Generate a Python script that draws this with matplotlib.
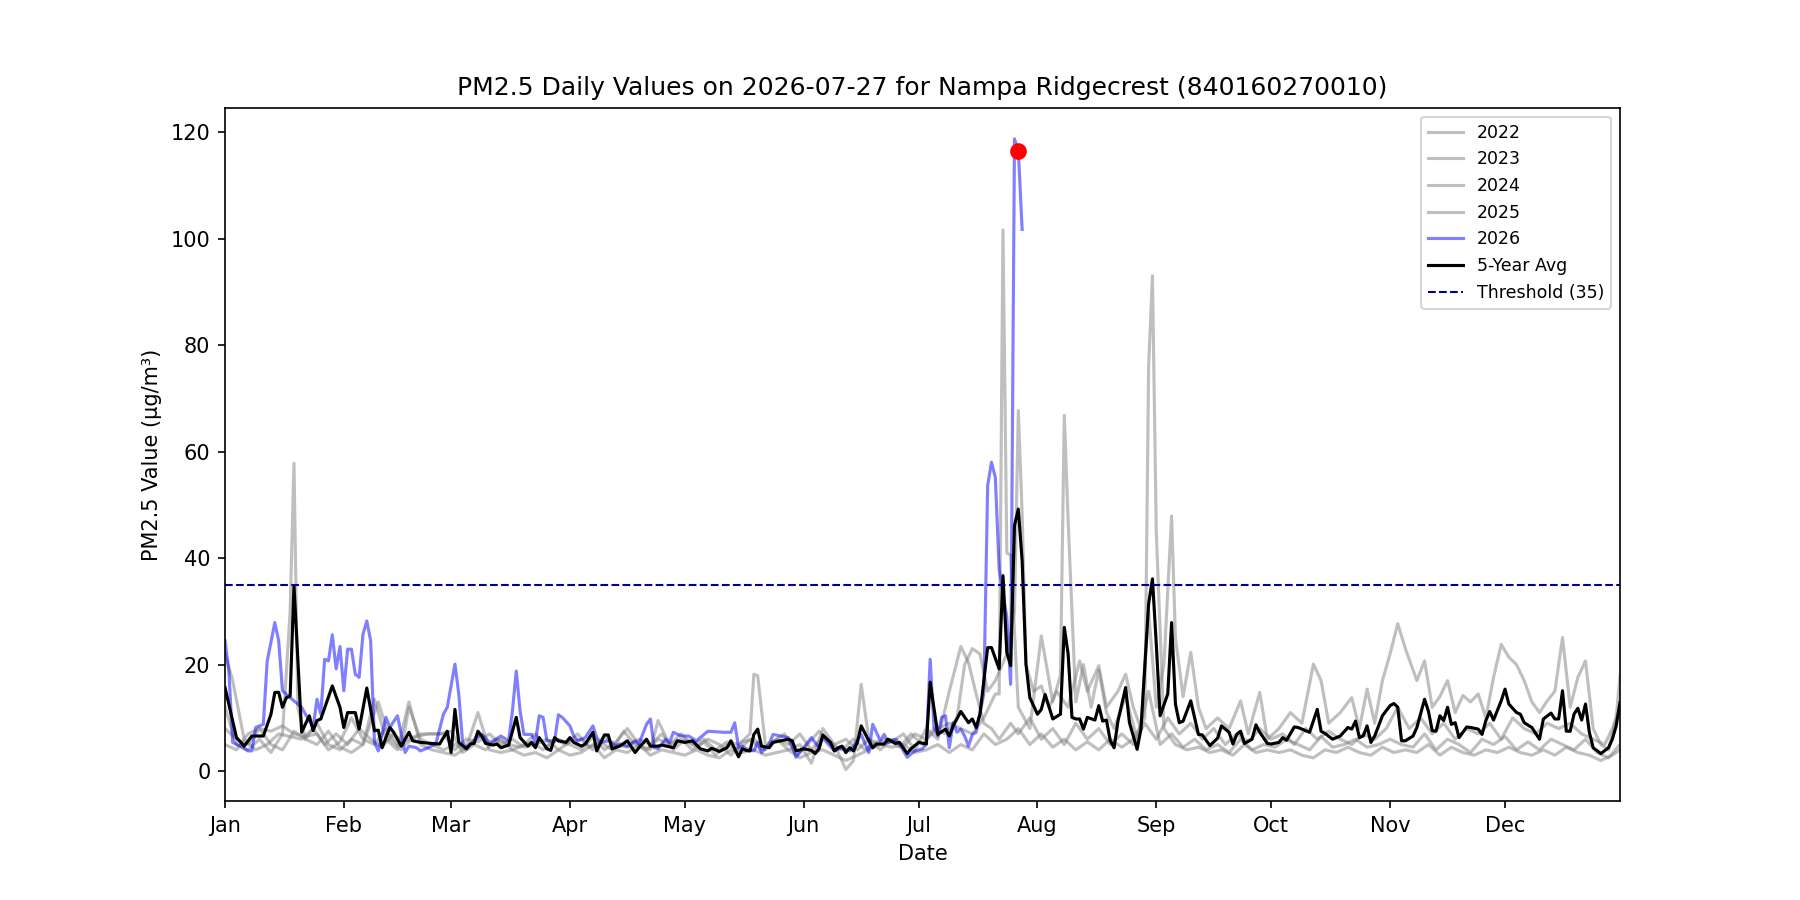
import numpy as np
import matplotlib
matplotlib.use("Agg")
import matplotlib.pyplot as plt
import matplotlib.dates as mdates

# day-of-year (0 = Jan 1) and PM2.5 values
d2022 = [0, 3, 6, 9, 12, 15, 17, 18, 19, 21, 24, 27, 30, 33, 36, 39, 42, 45, 48, 51, 54, 57, 60, 63, 66, 69, 72, 75, 78, 81,
         84, 87, 90, 93, 96, 99, 102, 105, 108, 111, 114, 117, 120, 123, 126, 129, 132, 135, 138, 141, 144, 147, 150, 153,
         156, 159, 162, 165, 168, 171, 174, 177, 180, 183, 186, 189, 192, 195, 198, 201, 204, 207, 210, 213, 216, 219, 222,
         225, 228, 231, 234, 237, 240, 241, 242, 243, 245, 248, 251, 254, 257, 260, 263, 266, 269, 272, 275, 278, 281, 284,
         287, 290, 293, 296, 299, 302, 305, 308, 311, 314, 317, 320, 323, 326, 329, 332, 335, 338, 341, 344, 347, 350, 353,
         356, 359, 362, 364]
v2022 = [12, 5, 4, 6, 3.5, 7, 30, 57.8, 12, 6, 5, 7.5, 4.5, 3.5, 5, 13.5, 6, 4, 13, 5, 4, 3.5, 3, 4.5, 11, 4, 3.5, 4, 3, 3.5,
         2.5, 4, 3, 3.5, 5, 2.5, 4, 3.5, 5, 3, 4, 3.5, 3, 4, 3, 2.5, 4, 3.5, 4, 3, 3.5, 4, 2.5, 3.5,
         4, 3, 2, 3, 4, 5, 4.5, 5, 3.5, 4, 5, 3.5, 5, 4, 7, 5, 6, 8, 5, 7, 4.5, 6, 4,
         5.5, 4, 6, 4.5, 6, 10, 76, 93, 45, 8, 5, 4, 4.5, 3.5, 4, 3, 5, 3.5, 4, 3.5, 4, 3, 2.5,
         4, 3.5, 4.5, 3.5, 3, 4.5, 3.5, 4, 3.5, 5, 3, 4.5, 3.5, 3, 4, 3.5, 4.5, 3.5, 3, 4, 3, 4.5, 3.5,
         3, 2, 3, 4]

d2023 = [0, 2, 5, 8, 11, 14, 17, 20, 23, 26, 29, 32, 35, 38, 41, 44, 47, 50, 53, 56, 59, 62, 65, 68, 71, 74, 77, 80, 83, 86,
         89, 92, 95, 98, 101, 104, 107, 110, 113, 116, 119, 122, 125, 128, 131, 134, 137, 138, 139, 141, 144, 147, 150, 153,
         156, 159, 162, 164, 166, 168, 171, 174, 177, 180, 183, 186, 189, 192, 195, 198, 201, 202, 203, 204, 205, 207, 210,
         213, 216, 218, 219, 220, 222, 224, 226, 228, 230, 232, 235, 238, 241, 244, 247, 250, 253, 256, 259, 262, 265, 268,
         271, 274, 277, 280, 283, 286, 289, 292, 295, 298, 301, 304, 307, 310, 313, 316, 319, 322, 325, 328, 331, 334, 337,
         340, 343, 346, 349, 352, 355, 358, 361, 364]
v2023 = [22, 17, 6, 4, 5, 7, 6.5, 6, 8, 5, 7, 5, 8, 6, 4.5, 7, 5, 6.5, 7, 7, 7.5, 3.5, 5, 4, 6, 5, 4.5, 5.5, 4, 6,
         5, 7, 4.5, 5.5, 4, 7.5, 5, 4, 6, 5, 7, 5, 6, 4, 5.5, 5, 7, 18.2, 17.9, 5, 6, 4, 5, 1.5,
         8, 5, 0.3, 2, 16.3, 6, 4, 6, 4.5, 7, 6, 8, 9, 8, 7, 10, 14.5, 14.5, 101.6, 41, 40.5, 12, 8,
         25.4, 13, 18, 66.8, 47, 13, 20, 12, 19, 11, 8, 14, 6, 15, 5, 7, 4.5, 6, 4, 5, 3.5, 6, 4,
         5, 4.5, 6, 5, 4, 6.5, 4.5, 5, 6, 4.5, 5, 6, 5, 4.5, 7, 4, 6, 5, 3.5, 6, 5, 6.5, 4,
         5.5, 4, 6, 5, 4, 6, 3.5, 2.5, 5]

d2024 = [0, 3, 6, 9, 12, 15, 18, 21, 24, 27, 30, 33, 36, 40, 43, 46, 48, 51, 54, 57, 60, 63, 66, 69, 72, 75, 78, 81, 84, 87,
         90, 93, 96, 99, 102, 105, 108, 111, 113, 116, 119, 122, 125, 128, 131, 134, 137, 140, 143, 146, 149, 152, 155, 158,
         161, 164, 167, 170, 173, 176, 179, 182, 185, 188, 191, 193, 195, 197, 199, 201, 204, 206, 207, 208, 209, 211, 213,
         215, 217, 220, 223, 225, 228, 230, 233, 235, 237, 239, 241, 243, 245, 247, 248, 250, 252, 254, 256, 259, 262, 265,
         267, 270, 272, 275, 278, 281, 284, 286, 288, 291, 294, 296, 298, 300, 302, 304, 306, 308, 311, 313, 315, 317, 319,
         321, 323, 325, 327, 329, 331, 333, 335, 337, 339, 341, 343, 345, 347, 349, 351, 353, 355, 357, 359, 361, 363, 364]
v2024 = [8, 6, 5, 8, 5, 4, 7.5, 6, 9, 5, 4, 6, 5, 13, 6, 4, 12, 6, 5, 4, 5, 4, 7, 5, 6, 4, 5, 7, 4.5, 6,
         5, 4, 6.5, 4, 5.5, 8, 5, 4, 9.5, 5, 6, 4, 5.5, 3, 5, 4, 6, 4, 5.5, 7, 3, 5, 7.5, 5,
         4, 6, 4, 5.5, 6, 4.5, 7, 5, 8, 7, 10, 20, 23, 22, 15, 17, 22, 30, 67.7, 48.3, 20, 15, 16,
         12, 15, 12, 20.7, 15, 19.8, 12, 15, 18.2, 12, 8, 30, 12, 20, 47.9, 25, 14, 22.3, 12, 8, 10, 8, 13.2,
         7, 14.8, 6, 8, 11, 9, 20.1, 17, 9, 11, 13.8, 8, 15.4, 9, 17, 22, 27.7, 23, 17, 20.7, 12, 14, 17,
         11, 14.2, 13, 14.5, 10, 17.6, 23.8, 21.4, 20, 17, 13, 11, 13.2, 15, 25.1, 12, 17.6, 20.7, 8, 5, 4, 10, 17.9]

d2025 = [0, 3, 6, 9, 12, 15, 18, 21, 24, 27, 30, 33, 36, 39, 42, 45, 48, 51, 54, 57, 60, 63, 66, 69, 72, 75, 78, 81, 84, 87,
         90, 93, 96, 99, 102, 105, 108, 111, 114, 117, 120, 123, 126, 129, 132, 135, 138, 141, 144, 147, 150, 153, 156, 159,
         162, 165, 168, 171, 174, 177, 180, 183, 186, 189, 192, 194, 196, 198, 200, 202, 205, 207, 210, 213, 216, 219, 222,
         225, 228, 231, 234, 237, 240, 243, 246, 249, 252, 255, 258, 261, 264, 267, 270, 273, 276, 279, 282, 285, 288, 291,
         294, 297, 300, 303, 306, 309, 312, 315, 318, 321, 324, 327, 330, 333, 336, 339, 342, 345, 348, 351, 354, 357, 360,
         362, 364]
v2025 = [5, 4, 7, 8, 7.5, 8.5, 7, 6.5, 7, 4, 5.5, 10, 6, 5, 8, 5, 6, 7, 7, 7, 4, 6, 5.5, 7, 5, 6, 4.5, 5, 6, 4,
         5.5, 6, 4, 6.5, 5, 4.5, 6, 5, 7, 4, 6, 4.5, 6, 5, 3, 5.5, 6, 4, 6, 5, 7, 4, 6.5, 5,
         6, 4, 6, 5, 5.5, 7, 4, 8, 6, 15, 23.4, 20.4, 14.5, 9, 8, 6, 9, 7, 10, 6, 8, 5, 9,
         6, 8, 5, 7, 5, 9, 6, 10, 7, 9, 6, 8, 5, 7, 5.5, 8, 6, 7, 5, 8, 6, 7.5, 6,
         5, 7, 6, 8, 12, 8, 10, 7, 9, 6, 8, 7, 9, 6, 10, 8, 7, 9, 8, 9, 7, 6, 5,
         8, 12]

d2026 = [0, 1, 2, 4, 6, 7, 8, 10, 11, 13, 14, 15, 17, 18, 19, 20, 21, 23, 24, 25, 26, 27, 28, 29, 30, 31, 32, 33, 34, 35,
         36, 37, 38, 39, 40, 42, 43, 45, 47, 48, 50, 51, 53, 55, 57, 58, 60, 61, 62, 63, 65, 67, 69, 70, 72, 74, 75, 76,
         77, 78, 80, 81, 82, 83, 84, 86, 87, 88, 90, 91, 92, 94, 96, 97, 98, 100, 102, 103, 105, 107, 108, 110, 111, 112,
         113, 115, 116, 117, 119, 121, 123, 126, 130, 132, 133, 134, 135, 136, 138, 139, 140, 142, 143, 145, 147, 148, 149,
         151, 153, 155, 156, 157, 159, 161, 163, 164, 166, 168, 169, 171, 172, 173, 175, 176, 178, 180, 182, 183, 184, 185,
         186, 187, 188, 189, 190, 191, 192, 193, 194, 195, 196, 198, 199, 200, 201, 202, 203, 204, 205, 206, 207, 208]
v2026 = [24.5, 18.9, 5.4, 4.7, 3.8, 3.8, 8.2, 8.8, 20.6, 27.9, 24.5, 15.1, 13.8, 13.2, 12.6, 12.0, 10.7, 8.2, 13.5, 10.7,
         21.0, 20.7, 25.6, 19.2, 23.4, 15.1, 22.9, 22.9, 18.2, 17.6, 25.7, 28.2, 24.5, 5.4, 3.8, 10.1, 8.2, 10.4, 3.5, 4.7,
         4.4, 3.8, 4.4, 5.1, 10.7, 12.0, 20.1, 14.5, 5.4, 4.4, 5.7, 6.9, 5.4, 5.7, 6.6, 5.7, 11.3, 18.8, 11.3, 6.9, 6.9, 5.4,
         10.4, 10.1, 5.7, 5.7, 10.6, 10.1, 8.5, 6.6, 5.7, 6.3, 8.5, 6.3, 5.4, 5.7, 4.7, 5.1, 4.7, 5.7, 5.1, 8.8, 9.8, 4.4,
         4.2, 6.0, 5.4, 7.3, 6.6, 6.6, 5.7, 7.5, 7.3, 7.3, 9.1, 4.4, 4.7, 4.2, 3.8, 5.4, 3.5, 5.1, 6.9, 6.6, 6.3, 4.7, 2.6,
         4.4, 6.3, 4.4, 6.3, 5.4, 3.8, 4.4, 3.8, 4.7, 6.9, 3.5, 8.8, 5.7, 6.9, 5.4, 6.0, 5.1, 2.6, 3.8, 4.2, 5.1, 21.0, 8.2,
         6.6, 10.1, 10.4, 4.4, 9.1, 7.3, 7.9, 6.6, 4.7, 6.9, 7.3, 14.5, 53.6, 58.0, 55.2, 38.0, 33.3, 28.9, 16.3, 118.7,
         116.5, 101.7]

avg_days = [0, 3, 5, 7, 10, 12, 13, 14, 15, 16, 17, 18, 20, 22, 23, 24, 25, 28, 30, 31, 32, 34, 35, 37, 39, 40, 41, 43,
            44, 46, 48, 49, 51, 54, 56, 58, 59, 60, 61, 63, 64, 65, 66, 67, 68, 70, 71, 72, 74, 76, 77, 79, 80, 81, 82, 84,
            85, 86, 87, 89, 90, 91, 93, 94, 96, 97, 99, 100, 101, 103, 105, 107, 108, 110, 111, 113, 114, 117, 118, 120,
            122, 124, 126, 127, 129, 131, 132, 134, 135, 136, 137, 138, 139, 140, 142, 143, 145, 147, 148, 149, 151, 153,
            154, 155, 156, 158, 159, 160, 161, 162, 163, 164, 165, 166, 168, 169, 170, 172, 173, 175, 176, 178, 179, 181,
            183, 184, 186, 188, 189, 190, 192, 194, 195, 196, 197, 198, 199, 200, 202, 203, 204, 205, 206, 207, 208, 209,
            210, 212, 213, 214, 216, 218, 219, 220, 221, 222, 223, 224, 225, 227, 228, 229, 230, 231, 232, 233, 235, 236,
            238, 239, 241, 242, 243, 244, 246, 247, 248, 249, 250, 252, 254, 255, 257, 259, 260, 262, 263, 264, 265, 266,
            268, 269, 270, 272, 273, 275, 276, 277, 279, 280, 281, 283, 285, 286, 287, 289, 291, 293, 294, 295, 296, 297,
            298, 299, 300, 302, 304, 305, 306, 307, 308, 310, 311, 313, 314, 315, 316, 317, 318, 319, 320, 321, 322, 324,
            325, 327, 328, 329, 330, 331, 333, 334, 335, 337, 338, 339, 341, 343, 344, 346, 347, 348, 349, 350, 351, 352,
            353, 354, 355, 356, 357, 359, 361, 362, 363, 364]
avg_vals = [15.7, 6.3, 4.7, 6.6, 6.6, 10.7, 14.8, 14.8, 12.0, 13.8, 14.1, 34.8, 7.3, 10.4, 7.6, 9.5, 9.8, 16.0, 12.0, 8.2,
            11.0, 11.0, 7.9, 15.6, 7.6, 7.7, 4.4, 8.2, 7.3, 4.7, 7.3, 5.7, 5.4, 5.2, 5.1, 7.5, 3.5, 11.6, 5.4, 4.2, 5.1,
            5.2, 7.5, 6.6, 5.2, 4.9, 5.1, 4.4, 4.9, 10.1, 6.3, 4.7, 5.4, 4.4, 6.3, 4.2, 3.9, 6.3, 5.7, 5.4, 6.3, 5.4, 4.7,
            5.1, 7.3, 3.8, 6.8, 6.8, 4.2, 4.7, 5.7, 3.5, 4.4, 6.0, 4.7, 4.7, 4.9, 4.4, 5.7, 5.4, 5.7, 4.2, 3.8, 4.3, 3.7,
            4.4, 5.7, 2.7, 4.2, 3.9, 3.8, 6.9, 7.9, 4.7, 4.4, 5.4, 5.7, 6.0, 5.7, 3.8, 4.2, 3.9, 3.3, 4.2, 6.8, 5.4, 3.8,
            4.4, 4.7, 3.5, 4.4, 3.8, 5.4, 8.5, 5.7, 4.4, 5.1, 5.1, 6.0, 5.2, 5.4, 3.3, 4.2, 5.4, 5.1, 16.7, 6.9, 7.9, 6.6,
            8.5, 11.2, 9.1, 9.8, 8.2, 10.7, 17.0, 23.2, 23.2, 19.2, 36.7, 22.3, 19.8, 46.1, 49.2, 39.5, 20.1, 13.8, 10.7,
            11.6, 14.4, 9.8, 10.7, 27.0, 22.0, 10.1, 9.8, 9.8, 7.9, 10.1, 9.6, 12.3, 9.4, 9.6, 5.7, 4.4, 9.4, 15.7, 9.1,
            4.1, 7.9, 31.4, 36.1, 23.9, 10.4, 14.5, 27.9, 12.6, 9.1, 9.4, 13.2, 6.9, 6.8, 4.8, 6.2, 8.5, 7.3, 5.1, 6.9,
            7.5, 5.2, 6.0, 8.7, 7.3, 5.2, 5.1, 5.4, 6.3, 5.8, 8.3, 8.2, 7.9, 7.3, 11.6, 7.5, 7.1, 6.0, 6.6, 8.2, 7.9, 9.4,
            6.3, 6.6, 8.5, 5.4, 6.6, 10.4, 12.3, 12.7, 12.0, 5.7, 5.7, 6.6, 8.2, 13.5, 11.3, 7.6, 7.5, 10.4, 9.5, 12.0,
            8.8, 9.1, 6.3, 8.3, 8.2, 7.9, 6.9, 9.5, 11.2, 9.6, 13.2, 15.4, 12.6, 11.0, 10.7, 9.1, 8.2, 6.0, 9.8, 10.9,
            9.8, 9.8, 15.1, 7.5, 7.5, 10.7, 11.8, 9.6, 12.6, 7.3, 4.4, 3.3, 4.4, 6.0, 8.5, 12.9]

today_day = 207
today_val = 116.5
threshold = 35

years = ["2022", "2023", "2024", "2025"]
gray_days = [d2022, d2023, d2024, d2025]
gray_vals = [v2022, v2023, v2024, v2025]

base = np.datetime64("2026-01-01")


def to_dates(days):
    return base + np.array(days, dtype="timedelta64[D]")


fig, ax = plt.subplots(figsize=(12, 6), dpi=150)

for yr, dd, vv in zip(years, gray_days, gray_vals):
    ax.plot(to_dates(dd), vv, color="gray", alpha=0.5, linewidth=1.5, label=yr)
ax.plot(to_dates(d2026), v2026, color="blue", alpha=0.5, linewidth=1.5, label="2026")
ax.plot(to_dates(avg_days), avg_vals, color="black", linewidth=1.5, label="5-Year Avg")
ax.axhline(threshold, color="darkblue", linestyle="--", linewidth=1, label=f"Threshold ({threshold})")
ax.plot(to_dates([today_day]), [today_val], "ro", markersize=7)

ax.set_xlim(base, base + np.timedelta64(364, "D"))
ax.set_ylim(-5.6, 124.5)
ax.xaxis.set_major_locator(mdates.MonthLocator())
ax.xaxis.set_major_formatter(mdates.DateFormatter("%b"))

ax.set_title("PM2.5 Daily Values on 2026-07-27 for Nampa Ridgecrest (840160270010)")
ax.set_xlabel("Date")
ax.set_ylabel("PM2.5 Value (µg/m³)")
ax.legend(loc="upper right", fontsize="small")

fig.savefig("out.png", dpi=150)
